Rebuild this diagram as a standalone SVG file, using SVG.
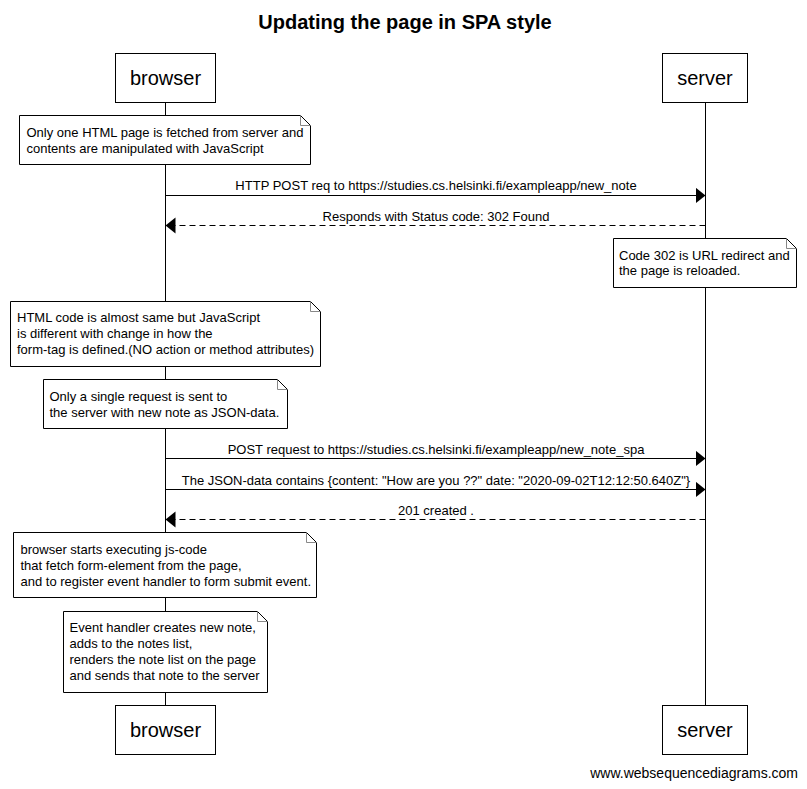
<svg xmlns="http://www.w3.org/2000/svg" width="807" height="789" viewBox="0 0 807 789">
<style>
text{font-family:"Liberation Sans",Arial,sans-serif;fill:#000}
.title{font-size:20px;font-weight:bold;text-anchor:middle}
.actor{font-size:20px;text-anchor:middle}
.msg{font-size:13px;text-anchor:middle}
.note{font-size:13px}
.foot{font-size:14px;text-anchor:end}
.box{fill:#fff;stroke:#000;stroke-width:1}
.life{stroke:#000;stroke-width:1}
.nbody{fill:#fff;stroke:#000;stroke-width:1}
.fold{fill:none;stroke:#888;stroke-width:1}
.solid{stroke:#000;stroke-width:1;fill:none}
.dash{stroke:#000;stroke-width:1;fill:none;stroke-dasharray:6,4}
</style>
<defs>
<marker id="ah" markerUnits="userSpaceOnUse" markerWidth="11" markerHeight="17" refX="10" refY="8" orient="auto">
<path d="M0,0 L10,8 L0,16 Z" fill="#000"/>
</marker>
</defs>
<rect width="807" height="789" fill="#fff"/>
<text class="title" x="405" y="29">Updating the page in SPA style</text>

<g id="lifelines">
<line class="life" x1="165.5" y1="103" x2="165.5" y2="705"/>
<line class="life" x1="705.5" y1="103" x2="705.5" y2="705"/>
</g>

<g id="browser-top">
<rect class="box" x="115.5" y="53.5" width="100" height="49"/>
<text class="actor" x="165.5" y="85">browser</text>
</g>
<g id="server-top">
<rect class="box" x="662.5" y="53.5" width="85" height="49"/>
<text class="actor" x="705" y="85">server</text>
</g>

<g id="note1">
<path class="nbody" d="M19.5,115.5 H300.5 L310.5,125.5 V164.5 H19.5 Z"/>
<path class="fold" d="M300.5,115.5 V125.5 H310.5"/>
<text class="note" x="26.5" y="137">Only one HTML page is fetched from server and</text>
<text class="note" x="26.5" y="153">contents are manipulated with JavaScript</text>
</g>

<g id="note2">
<path class="nbody" d="M613.5,238.5 H786.5 L796.5,248.5 V287.5 H613.5 Z"/>
<path class="fold" d="M786.5,238.5 V248.5 H796.5"/>
<text class="note" x="619" y="259.5">Code 302 is URL redirect and</text>
<text class="note" x="619" y="275">the page is reloaded.</text>
</g>

<g id="note3">
<path class="nbody" d="M10.5,301.5 H310.5 L320.5,311.5 V366.5 H10.5 Z"/>
<path class="fold" d="M310.5,301.5 V311.5 H320.5"/>
<text class="note" x="17" y="322">HTML code is almost same but JavaScript</text>
<text class="note" x="17" y="338">is different with change in how the</text>
<text class="note" x="17" y="354">form-tag is defined.(NO action or method attributes)</text>
</g>

<g id="note4">
<path class="nbody" d="M43.5,379.5 H277.5 L287.5,389.5 V428.5 H43.5 Z"/>
<path class="fold" d="M277.5,379.5 V389.5 H287.5"/>
<text class="note" x="49.5" y="400.5">Only a single request is sent to</text>
<text class="note" x="49.5" y="416.5">the server with new note as JSON-data.</text>
</g>

<g id="note5">
<path class="nbody" d="M13.5,532.5 H306.5 L316.5,542.5 V597.5 H13.5 Z"/>
<path class="fold" d="M306.5,532.5 V542.5 H316.5"/>
<text class="note" x="20.5" y="553.5">browser starts executing js-code</text>
<text class="note" x="20.5" y="569.5">that fetch form-element from the page,</text>
<text class="note" x="20.5" y="585.5">and to register event handler to form submit event.</text>
</g>

<g id="note6">
<path class="nbody" d="M63.5,611.5 H257.5 L267.5,621.5 V692.5 H63.5 Z"/>
<path class="fold" d="M257.5,611.5 V621.5 H267.5"/>
<text class="note" x="69.5" y="632">Event handler creates new note,</text>
<text class="note" x="69.5" y="648">adds to the notes list,</text>
<text class="note" x="69.5" y="664">renders the note list on the page</text>
<text class="note" x="69.5" y="680">and sends that note to the server</text>
</g>

<g id="connectors">
<line class="solid" x1="165.5" y1="195.5" x2="705.5" y2="195.5" marker-end="url(#ah)"/>
<text class="msg" x="436" y="190">HTTP POST req to https://studies.cs.helsinki.fi/exampleapp/new_note</text>
<line class="dash" x1="705.5" y1="225.5" x2="165.5" y2="225.5" marker-end="url(#ah)"/>
<text class="msg" x="436" y="221">Responds with Status code: 302 Found</text>
<line class="solid" x1="165.5" y1="458.5" x2="705.5" y2="458.5" marker-end="url(#ah)"/>
<text class="msg" x="436" y="454">POST request to https://studies.cs.helsinki.fi/exampleapp/new_note_spa</text>
<line class="solid" x1="165.5" y1="489.5" x2="705.5" y2="489.5" marker-end="url(#ah)"/>
<text class="msg" x="436" y="485">The JSON-data contains {content: "How are you ??" date: "2020-09-02T12:12:50.640Z"}</text>
<line class="dash" x1="705.5" y1="519.5" x2="165.5" y2="519.5" marker-end="url(#ah)"/>
<text class="msg" x="436" y="515">201 created .</text>
</g>

<g id="browser-bottom">
<rect class="box" x="115.5" y="705.5" width="100" height="49"/>
<text class="actor" x="165.5" y="737">browser</text>
</g>
<g id="server-bottom">
<rect class="box" x="662.5" y="705.5" width="85" height="49"/>
<text class="actor" x="705" y="737">server</text>
</g>

<text class="foot" x="798" y="778">www.websequencediagrams.com</text>
</svg>
